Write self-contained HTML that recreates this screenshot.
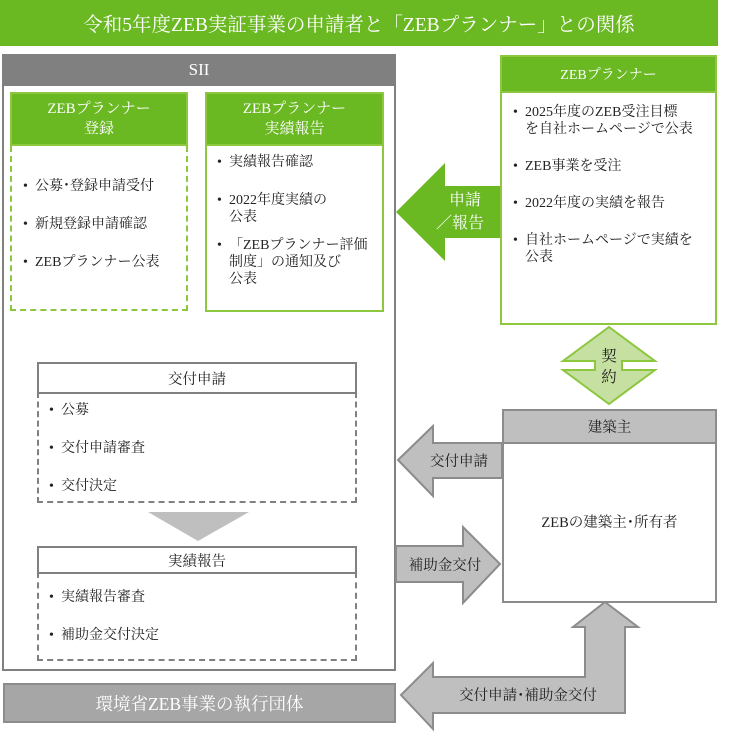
<!DOCTYPE html>
<html><head><meta charset="utf-8"><style>
body{margin:0;width:730px;height:733px;background:#fff;position:relative;overflow:hidden;font-family:"Liberation Serif","Noto Serif CJK SC",serif;color:#222}
.a{position:absolute;box-sizing:border-box}
.c{display:flex;align-items:center;justify-content:center;text-align:center}
ul{margin:0;padding:0;list-style:none}
li{position:relative;padding-left:13px;font-size:14px;line-height:17px}
li:before{content:"•";position:absolute;left:1px}
</style></head><body>
<div class="a c" style="left:0;top:0;width:718px;height:46px;background:#6ab822;color:#fff;font-size:19.5px">令和5年度ZEB実証事業の申請者と「ZEBプランナー」との関係</div>

<div class="a" style="left:2px;top:54px;width:394px;height:617px;border:2px solid #808080"></div>
<div class="a c" style="left:2px;top:54px;width:394px;height:32px;background:#808080;color:#fff;font-size:17px">SII</div>

<div class="a c" style="left:10px;top:92px;width:178px;height:54px;background:#6ab822;border:2px solid #8dc63f;color:#fff;font-size:15px;line-height:20px">ZEBプランナー<br>登録</div>
<div class="a" style="left:10px;top:146px;width:178px;height:165px;border:2px dashed #8dc63f;border-top:none"></div>
<ul class="a" style="left:22px;top:178px;width:166px"><li style="margin-bottom:21px">公募･登録申請受付</li><li style="margin-bottom:21px">新規登録申請確認</li><li>ZEBプランナー公表</li></ul>

<div class="a c" style="left:205px;top:92px;width:179px;height:54px;background:#6ab822;border:2px solid #8dc63f;color:#fff;font-size:15px;line-height:20px">ZEBプランナー<br>実績報告</div>
<div class="a" style="left:205px;top:146px;width:179px;height:166px;border:2px solid #8dc63f;border-top:none"></div>
<ul class="a" style="left:216px;top:154px;width:168px"><li style="margin-bottom:21px">実績報告確認</li><li style="margin-bottom:11px">2022年度実績の<br>公表</li><li>「ZEBプランナー評価<br>制度」の通知及び<br>公表</li></ul>

<div class="a c" style="left:37px;top:362px;width:320px;height:32px;border:2px solid #808080;font-size:14.5px">交付申請</div>
<div class="a" style="left:37px;top:392px;width:320px;height:111px;border:2px dashed #808080;border-top:none"></div>
<ul class="a" style="left:48px;top:402px;width:300px"><li style="margin-bottom:21px">公募</li><li style="margin-bottom:21px">交付申請審査</li><li>交付決定</li></ul>

<div class="a c" style="left:37px;top:546px;width:320px;height:28px;border:2px solid #808080;font-size:14.5px">実績報告</div>
<div class="a" style="left:37px;top:572px;width:320px;height:89px;border:2px dashed #808080;border-top:none"></div>
<ul class="a" style="left:48px;top:589px;width:300px"><li style="margin-bottom:21px">実績報告審査</li><li>補助金交付決定</li></ul>

<div class="a c" style="left:3px;top:683px;width:393px;height:40px;background:#a6a6a6;border:2px solid #8c8c8c;color:#fff;font-size:17.5px">環境省ZEB事業の執行団体</div>

<div class="a c" style="left:500px;top:55px;width:217px;height:38px;background:#6ab822;border:2px solid #8dc63f;color:#fff;font-size:14px">ZEBプランナー</div>
<div class="a" style="left:500px;top:91px;width:217px;height:234px;border:2px solid #8dc63f;border-top:none"></div>
<ul class="a" style="left:512px;top:104px;width:205px"><li style="margin-bottom:20px">2025年度のZEB受注目標<br>を自社ホームページで公表</li><li style="margin-bottom:20px">ZEB事業を受注</li><li style="margin-bottom:20px">2022年度の実績を報告</li><li>自社ホームページで実績を<br>公表</li></ul>

<div class="a c" style="left:502px;top:409px;width:215px;height:35px;background:#bfbfbf;border:2px solid #8c8c8c;font-size:14.5px">建築主</div>
<div class="a c" style="left:502px;top:442px;width:215px;height:161px;border:2px solid #8c8c8c;border-top:none;font-size:14.5px">ZEBの建築主･所有者</div>

<svg class="a" style="left:0;top:0" width="730" height="733">
<polygon points="396,212 445,163 445,186 500,186 500,238 445,238 445,261" fill="#6ab822"/>
<polygon points="609,327 655,361 622,361 622,370 655,370 609,404 563,370 595,370 595,361 563,361" fill="#c5e0a0" stroke="#8dc63f" stroke-width="2"/>
<polygon points="398,460 433,426 433,443 502,443 502,478 433,478 433,496" fill="#bfbfbf" stroke="#8c8c8c" stroke-width="2"/>
<polygon points="396,546 463,546 463,527 500,564 463,603 463,582 396,582" fill="#bfbfbf" stroke="#8c8c8c" stroke-width="2"/>
<polygon points="401,695 433,663 433,677 585,677 585,627 573,627 605,602 638,627 625,627 625,713 433,713 433,729" fill="#bfbfbf" stroke="#8c8c8c" stroke-width="2"/>
<polygon points="148,512 249,512 198,541" fill="#bfbfbf"/>
<g font-family="Liberation Serif,Noto Serif CJK SC,serif">
<text x="465" y="205" font-size="16" fill="#fff" text-anchor="middle">申請</text>
<text x="460" y="228" font-size="16" fill="#fff" text-anchor="middle">／報告</text>
<text x="609" y="361" font-size="15.5" fill="#222" text-anchor="middle">契</text>
<text x="609" y="382" font-size="15.5" fill="#222" text-anchor="middle">約</text>
<text x="459" y="466" font-size="14.5" fill="#222" text-anchor="middle">交付申請</text>
<text x="445" y="570" font-size="14.5" fill="#222" text-anchor="middle">補助金交付</text>
<text x="528" y="700" font-size="14.5" fill="#222" text-anchor="middle">交付申請･補助金交付</text>
</g>
</svg>
</body></html>
